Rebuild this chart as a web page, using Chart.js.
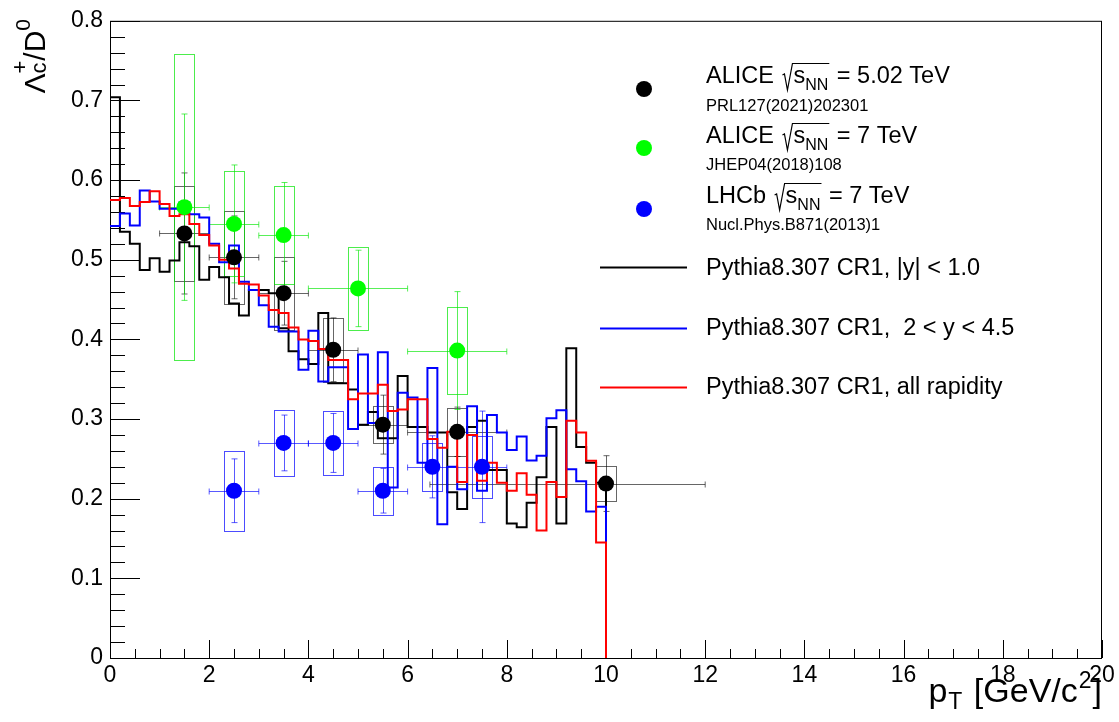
<!DOCTYPE html>
<html>
<head>
<meta charset="utf-8">
<script src="https://cdn.jsdelivr.net/npm/chart.js@4.4.1/dist/chart.umd.min.js"></script>
<style>
  html, body { margin: 0; padding: 0; background: #fff; }
  #wrap { position: relative; width: 1119px; height: 722px; }
</style>
</head>
<body>
<div id="wrap"><canvas id="myChart" width="1119" height="722"></canvas></div>
<script>
// Pythia histograms: bin edges (GeV/c) and bin contents
const binEdges = [0, 0.2, 0.4, 0.6, 0.8, 1, 1.2, 1.4, 1.6, 1.8, 2, 2.2, 2.4, 2.6, 2.8, 3, 3.2, 3.4, 3.6, 3.8,
  4, 4.2, 4.4, 4.6, 4.8, 5, 5.2, 5.4, 5.6, 5.8, 6, 6.2, 6.4, 6.6, 6.8, 7, 7.2, 7.4, 7.6, 7.8,
  8, 8.2, 8.4, 8.6, 8.8, 9, 9.2, 9.4, 9.6, 9.8, 10];

const pythiaMid = [0.704, 0.535, 0.520, 0.487, 0.502, 0.485, 0.499, 0.522, 0.517, 0.475,
  0.491, 0.478, 0.445, 0.430, 0.462, 0.462, 0.458, 0.414, 0.385, 0.375,
  0.369, 0.433, 0.345, 0.345, 0.337, 0.293, 0.309, 0.276, 0.276, 0.354,
  0.290, 0.290, 0.283, 0.283, 0.208, 0.187, 0.290, 0.298, 0.236, 0.236,
  0.169, 0.164, 0.195, 0.227, 0.290, 0.169, 0.389, 0.265, 0.245, 0.220];

const pythiaFwd = [0.5425, 0.558, 0.543, 0.587, 0.573, 0.564, 0.564, 0.572, 0.557, 0.553,
  0.520, 0.497, 0.518, 0.4725, 0.462, 0.443, 0.416, 0.410, 0.410, 0.362,
  0.411, 0.347, 0.365, 0.365, 0.2875, 0.381, 0.295, 0.384, 0.214, 0.333,
  0.327, 0.245, 0.364, 0.168, 0.240, 0.212, 0.316, 0.210, 0.305, 0.283,
  0.261, 0.278, 0.248, 0.254, 0.301, 0.311, 0.237, 0.222, 0.184, 0.190];

const pythiaAll = [0.575, 0.5775, 0.5675, 0.5725, 0.586, 0.570, 0.555, 0.557, 0.545, 0.531,
  0.518, 0.500, 0.489, 0.470, 0.469, 0.455, 0.437, 0.433, 0.415, 0.400,
  0.398, 0.388, 0.374, 0.374, 0.325, 0.332, 0.332, 0.343, 0.310, 0.312,
  0.325, 0.325, 0.275, 0.264, 0.284, 0.221, 0.280, 0.2225, 0.245, 0.220,
  0.210, 0.232, 0.205, 0.160, 0.221, 0.202, 0.298, 0.283, 0.2475, 0.145];

// ALICE pp 5.02 TeV
const alice5X = [1.5, 2.5, 3.5, 4.5, 5.5, 7, 10];
const alice5XLo = [1, 2, 3, 4, 5, 6, 6.45];
const alice5XHi = [2, 3, 4, 5, 6, 8, 12];
const alice5Y = [0.533, 0.503, 0.458, 0.387, 0.293, 0.284, 0.219];
const alice5Stat = [0.076, 0.052, 0.040, 0.040, 0.037, 0.031, 0.035];
const alice5Sys = [0.060, 0.058, 0.046, 0.040, 0.023, 0.030, 0.022];

// ALICE pp 7 TeV
const alice7X = [1.5, 2.5, 3.5, 5, 7];
const alice7XLo = [1, 2, 3, 4, 6];
const alice7XHi = [2, 3, 4, 6, 8];
const alice7Y = [0.566, 0.545, 0.531, 0.464, 0.386];
const alice7Stat = [0.117, 0.074, 0.066, 0.048, 0.074];
const alice7Sys = [0.192, 0.066, 0.062, 0.052, 0.055];

// LHCb pp 7 TeV
const lhcbX = [2.5, 3.5, 4.5, 5.5, 6.5, 7.5];
const lhcbXLo = [2, 3, 4, 5, 6, 7];
const lhcbXHi = [3, 4, 5, 6, 7, 8];
const lhcbY = [0.210, 0.270, 0.270, 0.210, 0.240, 0.240];
const lhcbStat = [0.040, 0.035, 0.037, 0.028, 0.039, 0.070];
const lhcbSys = [0.050, 0.041, 0.040, 0.030, 0.030, 0.039];

const pointLabels = ['ALICE', 'ALICE', 'LHCb'];
const pointEnergies = ['5.02 TeV', '7 TeV', '7 TeV'];
const pointRefs = ['PRL127(2021)202301', 'JHEP04(2018)108', 'Nucl.Phys.B871(2013)1'];
const histLabels = ['Pythia8.307 CR1, |y| < 1.0', 'Pythia8.307 CR1,  2 < y < 4.5', 'Pythia8.307 CR1, all rapidity'];

const FONT = '"Liberation Sans", Arial, Helvetica, sans-serif';
const MARKER = 8;

function histPoints(values) {
    const pts = values.map((v, i) => ({ x: binEdges[i], y: v }));
    const last = binEdges[values.length];
    pts.push({ x: last, y: values[values.length - 1] });
    pts.push({ x: last, y: 0 });
    return pts;
}

function graphPoints(xs, ys) {
    return xs.map((x, i) => ({ x: x, y: ys[i] }));
}

const pointSets = [
    { x: alice5X, lo: alice5XLo, hi: alice5XHi, y: alice5Y, stat: alice5Stat, sys: alice5Sys,
      color: '#000000', err: 'rgba(0,0,0,0.6)', box: 'rgba(0,0,0,0.6)' },
    { x: alice7X, lo: alice7XLo, hi: alice7XHi, y: alice7Y, stat: alice7Stat, sys: alice7Sys,
      color: '#00ff00', err: 'rgba(0,230,0,0.65)', box: 'rgba(0,230,0,0.7)' },
    { x: lhcbX, lo: lhcbXLo, hi: lhcbXHi, y: lhcbY, stat: lhcbStat, sys: lhcbSys,
      color: '#0000ff', err: 'rgba(0,0,255,0.65)', box: 'rgba(0,0,255,0.7)' }
];

// boxes and error bars, drawn under the markers
const errorPlugin = {
    id: 'rootErrors',
    beforeDatasetsDraw(chart) {
        const { ctx, chartArea, scales: { x, y } } = chart;
        ctx.save();
        ctx.beginPath();
        ctx.rect(chartArea.left, chartArea.top, chartArea.right - chartArea.left, chartArea.bottom - chartArea.top);
        ctx.clip();
        ctx.lineWidth = 1;
        const cap = 3;
        pointSets.forEach(set => {
            ctx.strokeStyle = set.box;
            set.x.forEach((xv, i) => {
                const l = Math.round(x.getPixelForValue(xv - 0.2)) + 0.5;
                const r = Math.round(x.getPixelForValue(xv + 0.2)) + 0.5;
                const t = Math.round(y.getPixelForValue(set.y[i] + set.sys[i])) + 0.5;
                const b = Math.round(y.getPixelForValue(set.y[i] - set.sys[i])) + 0.5;
                ctx.strokeRect(l, t, r - l, b - t);
            });
            ctx.strokeStyle = set.err;
            set.x.forEach((xv, i) => {
                const px = Math.round(x.getPixelForValue(xv)) + 0.5;
                const py = Math.round(y.getPixelForValue(set.y[i])) + 0.5;
                const x0 = x.getPixelForValue(set.lo[i]);
                const x1 = x.getPixelForValue(set.hi[i]);
                const y0 = y.getPixelForValue(set.y[i] + set.stat[i]);
                const y1 = y.getPixelForValue(set.y[i] - set.stat[i]);
                ctx.beginPath();
                ctx.moveTo(x0, py); ctx.lineTo(x1, py);
                ctx.moveTo(x0, py - cap); ctx.lineTo(x0, py + cap);
                ctx.moveTo(x1, py - cap); ctx.lineTo(x1, py + cap);
                ctx.moveTo(px, y0); ctx.lineTo(px, y1);
                ctx.moveTo(px - cap, y0); ctx.lineTo(px + cap, y0);
                ctx.moveTo(px - cap, y1); ctx.lineTo(px + cap, y1);
                ctx.stroke();
            });
        });
        ctx.restore();
    }
};

function drawParts(ctx, x, base, parts) {
    let cx = x;
    parts.forEach(p => {
        ctx.font = p.size + 'px ' + FONT;
        ctx.fillText(p.t, cx, base + (p.dy || 0));
        if (!p.stack) cx += ctx.measureText(p.t).width + (p.gap || 0);
    });
    return cx;
}

function partsWidth(ctx, parts) {
    let w = 0;
    parts.forEach(p => {
        ctx.font = p.size + 'px ' + FONT;
        if (!p.stack) w += ctx.measureText(p.t).width + (p.gap || 0);
    });
    return w;
}

function drawSqrtLabel(ctx, x, base, pre, post) {
    ctx.font = '23.5px ' + FONT;
    ctx.fillText(pre + ' ', x, base);
    const rx = x + ctx.measureText(pre + ' ').width + 2;
    const sw = ctx.measureText('s').width;
    ctx.font = '16px ' + FONT;
    const nw = ctx.measureText('NN').width;
    const sx = rx + 11;
    const end = sx + sw + nw + 1;
    ctx.beginPath();
    ctx.moveTo(rx, base - 8);
    ctx.lineTo(rx + 2, base - 9);
    ctx.lineTo(rx + 5, base + 7);
    ctx.lineTo(rx + 10, base - 19.5);
    ctx.lineTo(end, base - 19.5);
    ctx.lineWidth = 1.2;
    ctx.strokeStyle = '#000';
    ctx.stroke();
    ctx.font = '23.5px ' + FONT;
    ctx.fillText('s', sx, base);
    ctx.font = '16px ' + FONT;
    ctx.fillText('NN', sx + sw, base + 7);
    ctx.font = '23.5px ' + FONT;
    ctx.fillText(' = ' + post, end + 1, base);
}

const framePlugin = {
    id: 'rootFrame',
    beforeDatasetsDraw(chart) {
        const { ctx, chartArea: a, scales: { x, y } } = chart;
        ctx.save();
        ctx.strokeStyle = '#000';
        ctx.lineWidth = 1;
        ctx.strokeRect(a.left + 0.5, a.top + 0.5, a.right - a.left - 1, a.bottom - a.top);
        ctx.beginPath();
        // x axis: major every 2, minor every 0.5
        for (let v = x.min; v <= x.max + 1e-9; v += 0.5) {
            const px = Math.round(x.getPixelForValue(v)) + 0.5;
            const len = Math.abs(v / 2 - Math.round(v / 2)) < 1e-6 ? 18 : 9;
            ctx.moveTo(px, a.bottom);
            ctx.lineTo(px, a.bottom - len);
        }
        // y axis: major every 0.1, minor every 0.02
        for (let k = 0; k <= 40; k++) {
            const v = y.min + k * 0.02;
            const py = Math.round(y.getPixelForValue(v)) + 0.5;
            const len = k % 5 === 0 ? 30 : 15;
            ctx.moveTo(a.left, py);
            ctx.lineTo(a.left + len, py);
        }
        ctx.stroke();
        ctx.restore();
    },
    afterDraw(chart) {
        const { ctx } = chart;
        ctx.save();
        ctx.fillStyle = '#000';
        ctx.textAlign = 'left';
        ctx.textBaseline = 'alphabetic';

        // legend: data points
        const markerY = [89, 148, 209];
        const labelBase = [83, 143, 203];
        const refBase = [110.5, 170, 230];
        pointSets.forEach((set, i) => {
            ctx.fillStyle = set.color;
            ctx.beginPath();
            ctx.arc(644, markerY[i], MARKER, 0, Math.PI * 2);
            ctx.fill();
            ctx.fillStyle = '#000';
            drawSqrtLabel(ctx, 706, labelBase[i], pointLabels[i], pointEnergies[i]);
            ctx.font = '16.5px ' + FONT;
            ctx.fillText(pointRefs[i], 706, refBase[i]);
        });

        // legend: histograms
        const lineColors = ['#000000', '#0000ff', '#ff0000'];
        const lineY = [267.5, 328.5, 387.5];
        const lineBase = [275, 335, 394];
        ctx.lineWidth = 2;
        histLabels.forEach((lab, i) => {
            ctx.strokeStyle = lineColors[i];
            ctx.beginPath();
            ctx.moveTo(600, lineY[i]);
            ctx.lineTo(687, lineY[i]);
            ctx.stroke();
            ctx.font = '23.5px ' + FONT;
            ctx.fillText(lab, 706, lineBase[i]);
        });

        // x axis title
        const xParts = [
            { t: 'p', size: 34, gap: 1 }, { t: 'T', size: 23, dy: 7, gap: 2 },
            { t: ' [GeV/c', size: 34, gap: 1 }, { t: '2', size: 23, dy: -14, gap: 1 }, { t: ']', size: 34 }
        ];
        const xw = partsWidth(ctx, xParts);
        drawParts(ctx, 1102 - xw, 702, xParts);

        // y axis title (rotated, aligned to the top of the axis)
        const yParts = [
            { t: 'Λ', size: 30 }, { t: 'c', size: 22, dy: 1, stack: true }, { t: '+', size: 22, dy: -18 },
            { t: '/D', size: 30 }, { t: '0', size: 21, dy: -15 }
        ];
        const yw = partsWidth(ctx, yParts);
        ctx.translate(45, 19);
        ctx.rotate(-Math.PI / 2);
        drawParts(ctx, -yw, 0, yParts);
        ctx.restore();
    }
};

const ctx = document.getElementById('myChart').getContext('2d');
new Chart(ctx, {
    type: 'scatter',
    data: {
        datasets: [
            { label: 'ALICE 5.02', data: graphPoints(alice5X, alice5Y), backgroundColor: '#000000',
              pointRadius: MARKER, pointBorderWidth: 0, showLine: false },
            { label: 'ALICE 7', data: graphPoints(alice7X, alice7Y), backgroundColor: '#00ff00',
              pointRadius: MARKER, pointBorderWidth: 0, showLine: false },
            { label: 'LHCb 7', data: graphPoints(lhcbX, lhcbY), backgroundColor: '#0000ff',
              pointRadius: MARKER, pointBorderWidth: 0, showLine: false },
            { label: histLabels[2], data: histPoints(pythiaAll), type: 'line', stepped: 'before',
              borderColor: '#ff0000', borderWidth: 2, pointRadius: 0, fill: false },
            { label: histLabels[1], data: histPoints(pythiaFwd), type: 'line', stepped: 'before',
              borderColor: '#0000ff', borderWidth: 2, pointRadius: 0, fill: false },
            { label: histLabels[0], data: histPoints(pythiaMid), type: 'line', stepped: 'before',
              borderColor: '#000000', borderWidth: 2, pointRadius: 0, fill: false }
        ]
    },
    options: {
        responsive: false,
        animation: false,
        devicePixelRatio: 1,
        layout: { padding: { top: 18, right: 17, left: 0, bottom: 0 } },
        plugins: { legend: { display: false }, tooltip: { enabled: false } },
        scales: {
            x: {
                type: 'linear', min: 0, max: 20,
                grid: { display: false, drawTicks: false },
                border: { display: false },
                ticks: { stepSize: 2, autoSkip: false, maxRotation: 0, padding: 4,
                         color: '#000', font: { family: FONT, size: 23 } },
                afterFit: s => { s.height = 64; }
            },
            y: {
                type: 'linear', min: 0, max: 0.8,
                grid: { display: false, drawTicks: false },
                border: { display: false },
                ticks: { stepSize: 0.1, autoSkip: false, padding: 7, color: '#000',
                         font: { family: FONT, size: 23 },
                         callback: v => (Math.abs(v) < 1e-9 ? '0' : v.toFixed(1)) },
                afterFit: s => { s.width = 110; }
            }
        }
    },
    plugins: [errorPlugin, framePlugin]
});
</script>
</body>
</html>
